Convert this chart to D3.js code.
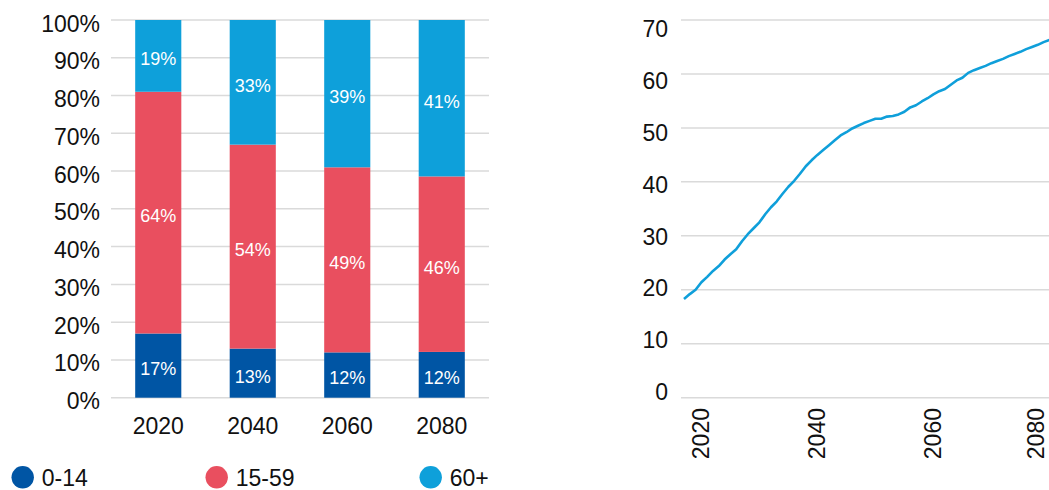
<!DOCTYPE html>
<html>
<head>
<meta charset="utf-8">
<script src="https://cdn.jsdelivr.net/npm/d3@7"></script>
<style>
  html, body { margin: 0; padding: 0; background: #fff; }
  svg { display: block; font-family: "Liberation Sans", Arial, sans-serif; }
</style>
</head>
<body>
<svg id="chart" width="1049" height="490"></svg>
<script>
// Population shares by age group (percent, as labelled)
const years = ["2020", "2040", "2060", "2080"];
const ageGroups = ["0-14", "15-59", "60+"];
const share0to14 = [17, 13, 12, 12];
const share15to59 = [64, 54, 49, 46];
const share60plus = [19, 33, 39, 41];
const percentTicks = [0, 10, 20, 30, 40, 50, 60, 70, 80, 90, 100];

// Old-age dependency series, one value per year
const seriesStartYear = 2017;
const dependencyValues = [
  18.3, 19.2, 20.0, 21.4, 22.4, 23.5, 24.4, 25.6, 26.6, 27.5,
  29.0, 30.3, 31.4, 32.5, 34.0, 35.3, 36.4, 37.8, 39.1, 40.2,
  41.5, 42.9, 44.0, 45.0, 45.9, 46.8, 47.7, 48.6, 49.2, 49.9,
  50.4, 50.9, 51.3, 51.7, 51.7, 52.1, 52.2, 52.5, 53.0, 53.8,
  54.2, 54.9, 55.5, 56.2, 56.8, 57.2, 58.0, 58.8, 59.3, 60.2,
  60.7, 61.1, 61.5, 62.0, 62.4, 62.8, 63.3, 63.7, 64.1, 64.6,
  65.0, 65.4, 65.9, 66.3
];
const valueTicks = [0, 10, 20, 30, 40, 50, 60, 70];
const yearTicks = [2020, 2040, 2060, 2080];

const colors = ["#0055a4", "#e94f5f", "#0ea0da"];
const gridColor = "#dadada";
const textColor = "#111";
const axisFont = 23;
const valueFont = 18;

const svg = d3.select("#chart");
const W = 1049;

// ---------- Left: 100% stacked columns ----------
const left = { x0: 111, x1: 489, top: 20, bottom: 397.7 };

const rows = years.map((y, i) => ({
  year: y,
  "0-14": share0to14[i],
  "15-59": share15to59[i],
  "60+": share60plus[i]
}));

const stack = d3.stack().keys(ageGroups).offset(d3.stackOffsetExpand);
const layers = stack(rows);

const xBand = d3.scaleBand().domain(years).range([left.x0, left.x1]).paddingInner(0.512).paddingOuter(0.256);
const yPct = d3.scaleLinear().domain([0, 1]).range([left.bottom, left.top]);

const gL = svg.append("g");

gL.append("g").selectAll("line").data(percentTicks).join("line")
  .attr("x1", left.x0).attr("x2", left.x1)
  .attr("y1", d => yPct(d / 100)).attr("y2", d => yPct(d / 100))
  .attr("stroke", gridColor).attr("stroke-width", 1.5);

gL.append("g").selectAll("text").data(percentTicks).join("text")
  .attr("x", 100).attr("y", d => yPct(d / 100))
  .attr("dy", "0.5em")
  .attr("text-anchor", "end")
  .attr("font-size", axisFont).attr("fill", textColor)
  .text(d => d + "%");

const layerG = gL.append("g").selectAll("g").data(layers).join("g")
  .attr("fill", (d, i) => colors[i]);

layerG.selectAll("rect").data(d => d).join("rect")
  .attr("x", d => xBand(d.data.year))
  .attr("width", xBand.bandwidth())
  .attr("y", d => yPct(d[1]))
  .attr("height", d => yPct(d[0]) - yPct(d[1]));

const labelG = gL.append("g").selectAll("g").data(layers).join("g");
labelG.selectAll("text").data(d => d.map(p => ({ p, key: d.key }))).join("text")
  .attr("x", d => xBand(d.p.data.year) + xBand.bandwidth() / 2)
  .attr("y", d => (yPct(d.p[0]) + yPct(d.p[1])) / 2)
  .attr("dy", "0.52em")
  .attr("text-anchor", "middle")
  .attr("font-size", valueFont).attr("fill", "#fff")
  .text(d => d.p.data[d.key] + "%");

gL.append("g").selectAll("text").data(years).join("text")
  .attr("x", d => xBand(d) + xBand.bandwidth() / 2)
  .attr("y", 434)
  .attr("text-anchor", "middle")
  .attr("font-size", axisFont).attr("fill", textColor)
  .text(d => d);

// Legend
const legendX = [22.7, 216.7, 430.7];
const legend = svg.append("g").selectAll("g").data(ageGroups).join("g")
  .attr("transform", (d, i) => `translate(${legendX[i]},477.3)`);
legend.append("circle").attr("r", 11.2).attr("fill", (d, i) => colors[i]);
legend.append("text")
  .attr("x", 19).attr("dy", "0.37em")
  .attr("font-size", axisFont).attr("fill", textColor)
  .text(d => d);

// ---------- Right: line chart ----------
const right = { x0: 681, x1: W, top: 20, bottom: 397.7 };
const lineData = dependencyValues.map((v, i) => ({ year: seriesStartYear + i, value: v }));

const xYear = d3.scaleLinear()
  .domain([seriesStartYear, seriesStartYear + dependencyValues.length - 1])
  .range([684, 1049.4]);
const yVal = d3.scaleLinear().domain([0, 70]).range([right.bottom, right.top]);
// tick labels sit on a slightly tighter spacing than the grid
const yValLabel = d3.scaleLinear().domain([0, 70]).range([right.bottom + 2.3, right.top + 17.3]);

const gR = svg.append("g");

gR.append("g").selectAll("line").data(valueTicks).join("line")
  .attr("x1", right.x0).attr("x2", right.x1)
  .attr("y1", d => yVal(d)).attr("y2", d => yVal(d))
  .attr("stroke", gridColor).attr("stroke-width", 1.5);

gR.append("g").selectAll("text").data(valueTicks).join("text")
  .attr("x", 668).attr("y", d => yValLabel(d))
  .attr("text-anchor", "end")
  .attr("font-size", axisFont).attr("fill", textColor)
  .text(d => d);

gR.append("path")
  .datum(lineData)
  .attr("fill", "none")
  .attr("stroke", "#0f9fda")
  .attr("stroke-width", 2.6)
  .attr("stroke-linejoin", "round")
  .attr("d", d3.line().x(d => xYear(d.year)).y(d => yVal(d.value)));

const xLabels = gR.append("g").selectAll("text").data(yearTicks).join("text")
  .attr("transform", d => `translate(${xYear(d)},408) rotate(-90)`)
  .attr("dy", "0.35em")
  .attr("text-anchor", "end")
  .attr("font-size", axisFont).attr("fill", textColor)
  .text(d => d);

// keep the rotated year labels inside the drawing area
xLabels.each(function (d) {
  const box = this.getBoundingClientRect();
  const overflow = box.right - W;
  if (overflow > 0) {
    d3.select(this).attr("transform", `translate(${xYear(d) - overflow},408) rotate(-90)`);
  }
});
</script>
</body>
</html>
